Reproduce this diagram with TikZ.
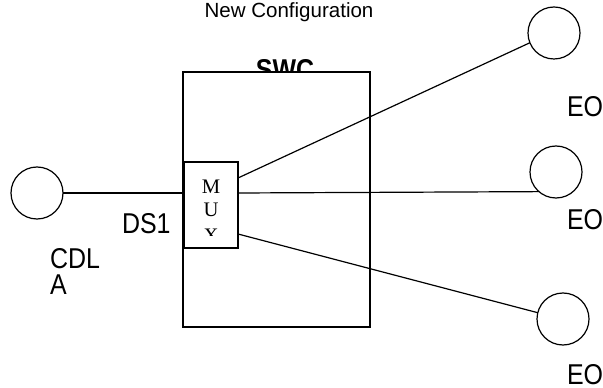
\documentclass[tikz,border=0pt]{standalone}
\usepackage{fontspec}
\setmainfont{Liberation Sans}
\newfontfamily\lblfont[FakeStretch=0.87]{Liberation Sans}
\newfontfamily\muxfont{Liberation Serif}
\usetikzlibrary{positioning}

\begin{document}
\begin{tikzpicture}[
   x=0.75pt, y=-0.75pt,
   every node/.style={inner sep=0pt, outer sep=0pt},
   site/.style={draw, circle, minimum size=39pt, line width=0.9pt},
   lbl/.style={font=\lblfont\fontsize{21.5pt}{25pt}\selectfont, anchor=base west},
   ttl/.style={font=\fontsize{15.4pt}{18pt}\selectfont, anchor=base},
   swcbox/.style={draw, fill=white, line width=0.9pt, minimum width=140.25pt,
                  minimum height=191.25pt},
   muxbox/.style={draw, fill=white, line width=0.9pt, minimum width=40.5pt,
                  minimum height=64.5pt},
   muxch/.style={font=\muxfont\fontsize{15.5pt}{18pt}\selectfont, anchor=base},
   ln/.style={line width=0.9pt}
]
\useasboundingbox (0,0) rectangle (603,388);

% Title
\node[ttl] (title) at (289,18) {New Configuration};

% Switch box with its label
\node[font=\lblfont\bfseries\fontsize{21.5pt}{25pt}\selectfont, anchor=base] (swclbl) at (285,80) {SWC};
\node[swcbox] (swc) at (276.5,199.5) {};

% Multiplexer
\node[muxbox] (mux) at (211,205) {};
\begin{scope}
  \clip (184,162) rectangle (238,236);
  \node[muxch] (muxm) at (211,194) {M};
  \node[muxch] (muxu) at (211,217) {U};
  \node[muxch] (muxx) at (211,243) {X};
\end{scope}

% Sites
\node[site] (cdla) at (37,193) {};
\node[site] (eo1) at (554,33) {};
\node[site] (eo2) at (556,172) {};
\node[site] (eo3) at (563,319) {};

% Labels
\node[lbl] (ds1) at (122,234) {DS1};
\node[lbl] (cdl) at (50,268) {CDL};
\node[lbl] (cdlb) at (50,295) {A};
\node[lbl] (eo1lbl) at (567,117) {EO};
\node[lbl] (eo2lbl) at (567,230) {EO};
\node[lbl] (eo3lbl) at (567,384) {EO};

% Links
\draw[ln] (cdla.east) -- (cdla.east -| mux.west);
\draw[ln] (mux.east |- 0,178) -- (eo1.202);
\draw[ln] (mux.east |- cdla.east) -- (eo2.229);
\draw[ln] (mux.east |- 0,234) -- (eo3.166);

\end{tikzpicture}
\end{document}
